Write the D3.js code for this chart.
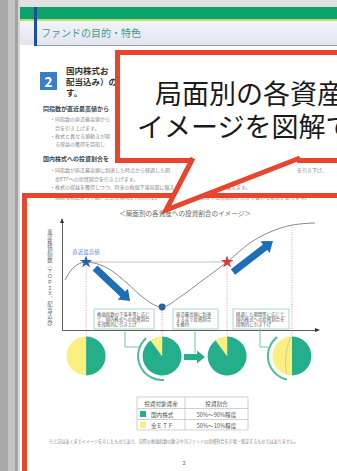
<!DOCTYPE html>
<html><head><meta charset="utf-8">
<script src="https://cdn.jsdelivr.net/npm/d3@7"></script>
<style>
html,body{margin:0;padding:0;background:#fff;overflow:hidden}
svg{display:block}
text{font-family:"Noto Sans CJK JP","Noto Sans",sans-serif}
</style>
</head><body>
<svg id="c" width="337" height="471"></svg>
<script>
// ---------- data ----------
const curveX = [1.2, 4.3, 9.4, 17.6, 25.4, 30.5, 39.1, 46.1, 55.1, 64.5, 73.4, 81.3, 90.2, 98.8];
const curveY = [45.5, 56.4, 61.8, 56.4, 42.7, 31.8, 20.9, 30.0, 45.5, 61.8, 79.1, 89.1, 95.5, 97.3];
const phaseX = [9.4, 39.1, 64.5, 89.8];
const phaseTopY = [61.8, 20.9, 61.8, 95.6];
const pieGreen = [50, 90, 90, 50];
const pieYellow = [50, 10, 10, 50];
const downArrow = [[12.9, 56.4], [26.6, 26.4]];
const upArrow = [[66.8, 52.7], [82.4, 80.9]];
const phaseBoxes = [
  ["株価指数の下落率等に応じ", "て、国内株式への投資割合", "を段階的に引き上げ"],
  ["直近最高値に到達", "するまで投資割合", "を維持"],
  ["経過した期間等に応じて、", "国内株式への投資割合を", "段階的に引き下げ"]
];
const tableHeader = ["投資対象資産", "投資割合"];
const tableAssets = ["国内株式", "金ＥＴＦ"];
const tableRanges = ["50%～90%程度", "50%～10%程度"];

const GREEN = "#24ae8b", YELLOW = "#fbef80", RED = "#e8452c", BLUE = "#1f6db5";

const svg = d3.select("#c");

// ---------- page background ----------
svg.append("rect").attr("width",337).attr("height",471).attr("fill","#fff");
svg.append("rect").attr("x",0).attr("y",0).attr("width",337).attr("height",7).attr("fill","#e2e2e2");
[[0,8,"#a9a9a9"],[8,7,"#c3c3c3"],[15,3,"#a3a3a3"],[18,2,"#d6d6d6"]].forEach(s=>{
  svg.append("rect").attr("x",s[0]).attr("y",0).attr("width",s[1]).attr("height",471).attr("fill",s[2]);
});
svg.append("rect").attr("x",20).attr("y",7).attr("width",317).attr("height",12).attr("fill","#0ba36b");
svg.append("rect").attr("x",20).attr("y",19).attr("width",317).attr("height",2).attr("fill","#bcdc72");
const defs = svg.append("defs");
const hg = defs.append("linearGradient").attr("id","hg").attr("x1",0).attr("x2",0).attr("y1",0).attr("y2",1);
hg.append("stop").attr("offset","0").attr("stop-color","#f3f3fa");
hg.append("stop").attr("offset","1").attr("stop-color","#e4e4f0");
svg.append("rect").attr("x",20).attr("y",21).attr("width",317).attr("height",24).attr("fill","url(#hg)");
svg.append("line").attr("x1",34).attr("x2",337).attr("y1",45.5).attr("y2",45.5).attr("stroke","#8e9cc2").attr("stroke-width",1);
svg.append("rect").attr("x",34).attr("y",7).attr("width",3).attr("height",39).attr("fill","#1f4f9a");
svg.append("text").attr("x",41).attr("y",37).attr("font-size",10).attr("fill","#3a9e88").text("ファンドの目的・特色");

// section number icon
svg.append("rect").attr("x",40).attr("y",72).attr("width",17).attr("height",18).attr("fill","#3b7dc6");
svg.append("text").attr("x",48.5).attr("y",87).attr("text-anchor","middle").attr("font-size",14).attr("font-weight","bold").attr("fill","#fff").text("2");

// visible fragments of the document text (the rest lies under the callouts)
const docLines = [
  [66,74,8.5,"bold","#333","国内株式お"],
  [66,85,8.5,"bold","#333","配当込み）の"],
  [66,96,8.5,"bold","#333","す。"],
  [43,111,6,"bold","#444","同指数が直近最高値から"],
  [50,121,5,"normal","#8a8a8a","・同指数の直近最高値から"],
  [55,130,5,"normal","#8a8a8a","合を引き上げます。"],
  [50,138,5,"normal","#8a8a8a","・株式と異なる値動きが期"],
  [55,146,5,"normal","#8a8a8a","る収益の獲得を目指し"],
  [43,161,6,"bold","#444","国内株式への投資割合を"],
  [50,172,5,"normal","#8a8a8a","・同指数が直近最高値に到達した時点から経過した期"],
  [297,172,5,"normal","#8a8a8a","を引き下げ、"],
  [55,181,5,"normal","#8a8a8a","金ETFへの投資割合を引き上げます。"],
  [50,189,5,"normal","#8a8a8a","・株式の収益を獲得しつつ、将来の株価下落局面に備え"],
  [226,189,5,"normal","#8a8a8a","備えます。"],
  [50,199,5,"normal","#8a8a8a","・相場環境によっては、上記の運用が行われない"],
  [200,199,5,"normal","#8a8a8a","場合や投資割合が大きく変わる場合があります。"]
];
docLines.forEach(l=>{
  svg.append("text").attr("x",l[0]).attr("y",l[1]).attr("font-size",l[2])
    .attr("font-weight",l[3]).attr("fill",l[4]).text(l[5]);
});

// ---------- big red frame ----------
svg.append("rect").attr("x",24.5).attr("y",195.5).attr("width",400).attr("height",400)
  .attr("fill","none").attr("stroke",RED).attr("stroke-width",5);

// ---------- chart ----------
const x = d3.scaleLinear().domain([0,100]).range([62,318]);
const y = d3.scaleLinear().domain([0,100]).range([330,220]);

svg.append("text").attr("x",185).attr("y",216).attr("text-anchor","middle").attr("font-size",6.6)
  .attr("fill","#666").text("＜局面別の各資産への投資割合のイメージ＞");

// axes
svg.append("g").attr("transform","translate(0,330)")
  .call(d3.axisBottom(x).tickValues([]).tickSizeOuter(0))
  .call(g=>g.select(".domain").attr("stroke","#333").attr("stroke-width",0.8));
svg.append("g").attr("transform","translate(62,0)")
  .call(d3.axisLeft(y).tickValues([]).tickSizeOuter(0))
  .call(g=>g.select(".domain").attr("stroke","#333").attr("stroke-width",0.8));
svg.append("path").attr("d",`M${x(100)+2},330 l-5,-2 l0,4 z`).attr("fill","#333");
svg.append("path").attr("d",`M62,${y(100)-2} l-2,5 l4,0 z`).attr("fill","#333");

svg.append("text").attr("x",50).attr("y",229).attr("font-size",5.3).attr("fill","#666")
  .style("writing-mode","vertical-rl").attr("letter-spacing",0.3)
  .text("東証株価指数（ＴＯＰＩＸ、配当込み）");

// reference horizontal line
svg.append("line").attr("x1",x(phaseX[0])).attr("x2",x(phaseX[2]))
  .attr("y1",y(phaseTopY[0])).attr("y2",y(phaseTopY[0])).attr("stroke","#aaa").attr("stroke-width",0.7);

// dotted phase lines
phaseX.forEach((px,i)=>{
  svg.append("line").attr("x1",x(px)).attr("x2",x(px)).attr("y1",y(phaseTopY[i])).attr("y2",337)
    .attr("stroke","#e08080").attr("stroke-width",0.8).attr("stroke-dasharray","1,1.4");
});

// curve
const pts = curveX.map((v,i)=>[v,curveY[i]]);
svg.append("path").datum(pts)
  .attr("d", d3.line().x(d=>x(d[0])).y(d=>y(d[1])).curve(d3.curveMonotoneX))
  .attr("fill","none").attr("stroke","#8a8a8a").attr("stroke-width",1);

// block arrows
function blockArrow(x1,y1,x2,y2,sw,hw,hl,color){
  const dx=x2-x1, dy=y2-y1, L=Math.hypot(dx,dy), ux=dx/L, uy=dy/L, nx=-uy, ny=ux;
  const bx=x2-ux*hl, by=y2-uy*hl;
  const p=[[x1+nx*sw/2,y1+ny*sw/2],[bx+nx*sw/2,by+ny*sw/2],[bx+nx*hw/2,by+ny*hw/2],[x2,y2],
           [bx-nx*hw/2,by-ny*hw/2],[bx-nx*sw/2,by-ny*sw/2],[x1-nx*sw/2,y1-ny*sw/2]];
  svg.append("path").attr("d","M"+p.map(q=>q.join(",")).join("L")+"Z").attr("fill",color);
}
blockArrow(x(downArrow[0][0]),y(downArrow[0][1]),x(downArrow[1][0]),y(downArrow[1][1]),7,15,10,BLUE);
blockArrow(x(upArrow[0][0]),y(upArrow[0][1]),x(upArrow[1][0]),y(upArrow[1][1]),7,15,10,BLUE);

// markers
svg.append("path").attr("d",d3.symbol(d3.symbolStar).size(50)())
  .attr("transform",`translate(${x(curveX[2])},${y(curveY[2])})`).attr("fill","#2a5fa5");
svg.append("circle").attr("cx",x(curveX[6])).attr("cy",y(curveY[6])).attr("r",3.4).attr("fill","#2a5fa5");
svg.append("path").attr("d",d3.symbol(d3.symbolStar).size(50)())
  .attr("transform",`translate(${x(curveX[9])},${y(curveY[9])})`).attr("fill","#d63a3a");
svg.append("text").attr("x",x(curveX[2])).attr("y",254).attr("text-anchor","middle")
  .attr("font-size",5.5).attr("fill","#4f8fd0").text("直近最高値");

// phase text boxes
const boxGeom = [[94,309,60],[173,309,45],[233,309,56]];
phaseBoxes.forEach((lines,i)=>{
  const [bx,by,bw]=boxGeom[i];
  svg.append("rect").attr("x",bx).attr("y",by).attr("width",bw).attr("height",20)
    .attr("fill","#fff").attr("stroke","#8fd2c1").attr("stroke-width",0.8);
  lines.forEach((t,j)=>{
    svg.append("text").attr("x",bx+3).attr("y",by+6.5+j*5.3).attr("font-size",4.4).attr("fill","#555").text(t);
  });
});

// connectors
[[[125,329],[125,347],[140,347]],[[195,329],[195,353]],[[260,329],[260,347],[268,347]]].forEach(c=>{
  svg.append("path").attr("d","M"+c.map(q=>q.join(",")).join("L")).attr("fill","none")
    .attr("stroke","#6cc4ad").attr("stroke-width",1);
});

// pies
const pie = d3.pie().sort(null).value(d=>d);
const arc = d3.arc().innerRadius(0).outerRadius(19.5);
const cy = 356;
phaseX.forEach((px,i)=>{
  const g = svg.append("g").attr("transform",`translate(${x(px)},${cy})`);
  g.selectAll("path").data(pie([pieGreen[i],pieYellow[i]])).join("path")
    .attr("d",arc).attr("fill",(d,k)=>k===0?GREEN:YELLOW);
});
// outer arcs on pies 2 & 4
const outer = d3.arc().innerRadius(23).outerRadius(25);
[[1,-42,-185],[3,-38,-168]].forEach(a=>{
  svg.append("path").attr("transform",`translate(${x(phaseX[a[0]])},${cy})`)
    .attr("d",outer({startAngle:a[1]*Math.PI/180,endAngle:a[2]*Math.PI/180})).attr("fill","#4cbc9c");
});
// dashed boundary on pie 4
const c4 = x(phaseX[3]);
svg.append("path").attr("d",`M${c4-1},${cy-19} Q${c4-9},${cy} ${c4-5},${cy+18.5}`)
  .attr("fill","none").attr("stroke","#999").attr("stroke-width",0.7).attr("stroke-dasharray","1.5,1");
// arrow between pies 2 and 3
blockArrow(184,357,205,357,6,13,8,GREEN);

// table
const tx=[137,185,248], ty=[397,408.5,419.5,430];
ty.forEach(v=>svg.append("line").attr("x1",tx[0]).attr("x2",tx[2]).attr("y1",v).attr("y2",v).attr("stroke","#bbb").attr("stroke-width",0.7));
tx.forEach(v=>svg.append("line").attr("x1",v).attr("x2",v).attr("y1",ty[0]).attr("y2",ty[3]).attr("stroke","#bbb").attr("stroke-width",0.7));
svg.append("text").attr("x",161).attr("y",405.5).attr("text-anchor","middle").attr("font-size",5.6).attr("fill","#555").text(tableHeader[0]);
svg.append("text").attr("x",216.5).attr("y",405.5).attr("text-anchor","middle").attr("font-size",5.6).attr("fill","#555").text(tableHeader[1]);
tableAssets.forEach((a,i)=>{
  const yy = ty[i+1];
  svg.append("rect").attr("x",140).attr("y",yy+2.5).attr("width",6).attr("height",6).attr("fill",i===0?GREEN:YELLOW);
  svg.append("text").attr("x",151).attr("y",yy+8).attr("font-size",5.6).attr("fill","#555").text(a);
  svg.append("text").attr("x",216.5).attr("y",yy+8).attr("text-anchor","middle").attr("font-size",5.6).attr("fill","#555").text(tableRanges[i]);
});

// footnote + page number
svg.append("text").attr("x",49).attr("y",443).attr("font-size",4.3).attr("fill","#888")
  .attr("textLength",249).attr("lengthAdjust","spacingAndGlyphs")
  .text("※上記はあくまでイメージを示したものであり、実際の株価指数の動きや当ファンドの投資割合を示唆・保証するものではありません。");
svg.append("text").attr("x",184).attr("y",465).attr("text-anchor","middle").attr("font-size",5.5).attr("fill","#666").text("2");

// ---------- callout ----------
svg.append("rect").attr("x",117.5).attr("y",52.5).attr("width",300).attr("height",108)
  .attr("fill","#fff").attr("stroke",RED).attr("stroke-width",5);
svg.append("rect").attr("x",196).attr("y",157).attr("width",101).attr("height",7).attr("fill","#fff");
svg.append("path").attr("d","M193,158 L166,210 L300,158")
  .attr("fill","#fff").attr("stroke",RED).attr("stroke-width",5).attr("stroke-linejoin","miter");
svg.append("text").attr("x",155).attr("y",104).attr("font-size",27).attr("fill","#1a1a1a").text("局面別の各資産への投資割合の");
svg.append("text").attr("x",137).attr("y",137).attr("font-size",27).attr("fill","#1a1a1a").text("イメージを図解で示しています");
</script>
</body></html>
